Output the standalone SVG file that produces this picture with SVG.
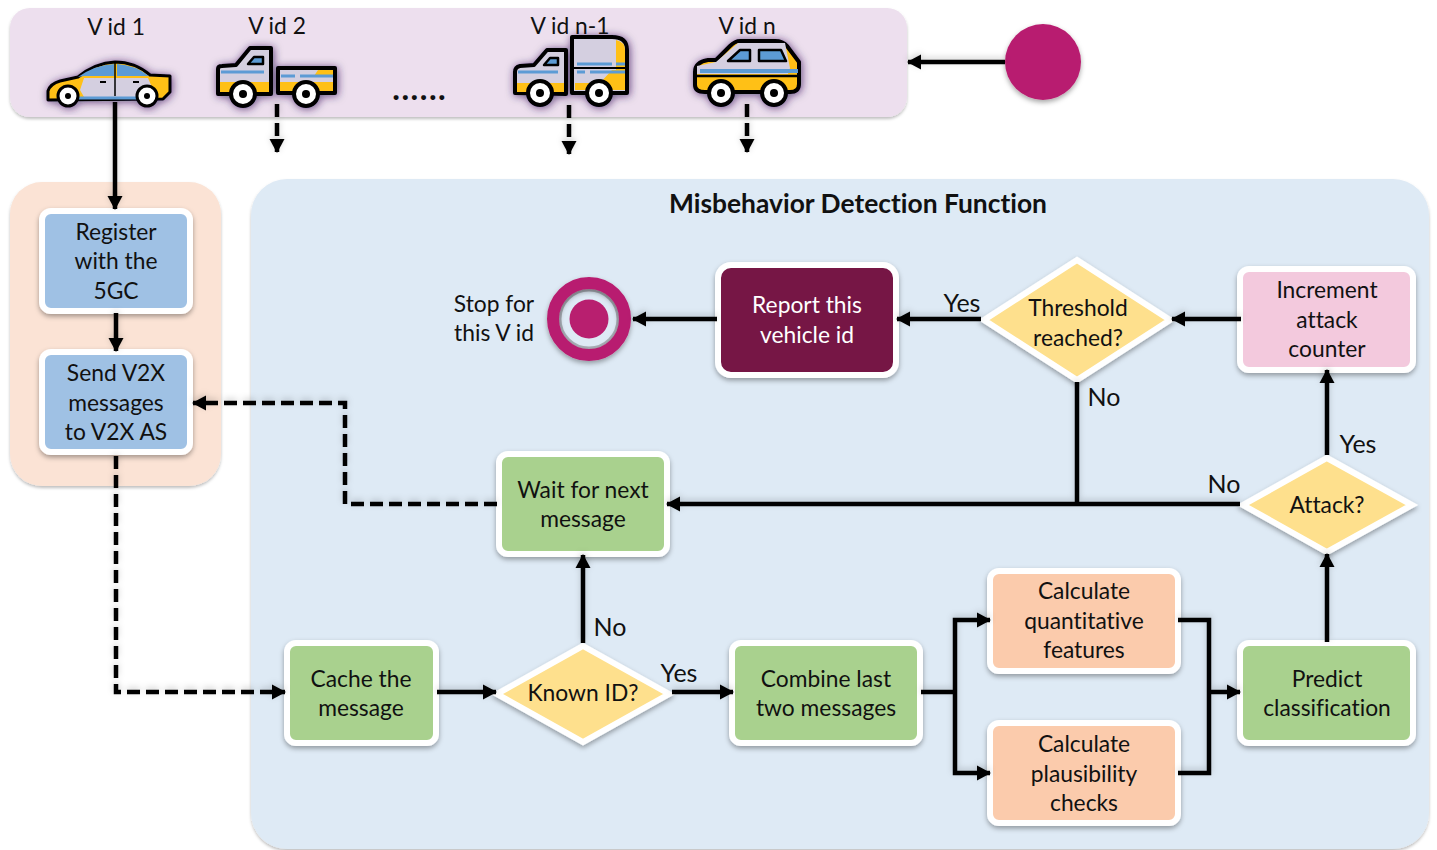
<svg xmlns="http://www.w3.org/2000/svg" width="1437" height="850" viewBox="0 0 1437 850">
<style>
text{font-family:"Lato","Open Sans","Liberation Sans",sans-serif;font-size:22.8px;fill:#111;text-anchor:middle;font-variant-ligatures:none}
.box{stroke:#fff;stroke-width:6;filter:url(#sh)}
.g{fill:#a9d18e}.o{fill:#fbcbac}.b{fill:#9fc1e4}.y{fill:#fee08d}
.c{fill:none;stroke:#000;stroke-width:4.5}
.a{marker-end:url(#ah)}
.d{stroke-dasharray:13 6}
.v{stroke:#000;stroke-width:4;stroke-linejoin:round}
.w{fill:#fff;stroke:#000;stroke-width:4}
.hub{fill:#000}
.bl{fill:#5b9bd5}.ye{fill:#ffc014}.gr{fill:#d4cfe0}
.lb{font-size:25px}
</style>
<defs>
<marker id="ah" markerUnits="userSpaceOnUse" markerWidth="15" markerHeight="16" refX="13" refY="8" orient="auto"><path d="M0 0.5L14 8L0 15.5Z" fill="#000"/></marker>
<filter id="sh" x="-20%" y="-20%" width="140%" height="140%"><feDropShadow dx="0" dy="2.5" stdDeviation="2.5" flood-color="#000" flood-opacity=".35"/></filter>
<filter id="pn" x="-5%" y="-5%" width="110%" height="110%"><feDropShadow dx="0" dy="2" stdDeviation="1.5" flood-color="#000" flood-opacity=".25"/></filter>
<filter id="vs" x="-20%" y="-20%" width="140%" height="140%"><feDropShadow dx="1" dy="1" stdDeviation="4" flood-color="#2a1650" flood-opacity=".7"/></filter>
<filter id="ls" x="-5%" y="-5%" width="110%" height="110%"><feDropShadow dx="0" dy="-2" stdDeviation="3" flood-color="#000" flood-opacity=".18"/></filter>
</defs>
<g id="vehicle-panel"><rect x="10" y="8" width="897" height="109" rx="20" fill="#eddfee" filter="url(#pn)"/></g>
<g id="ue-panel"><rect x="10" y="182" width="211" height="304" rx="32" fill="#fbe3d5" filter="url(#pn)"/></g>
<g id="mdf-panel"><rect x="251" y="179" width="1178" height="670" rx="36" fill="#deeaf5" filter="url(#pn)"/><text x="858" y="213" style="font-weight:700;font-size:26.4px">Misbehavior Detection Function</text></g>
<g id="source"><circle cx="1043" cy="62" r="38" fill="#b81f6f" filter="url(#sh)"/></g>
<g id="car1"><g filter="url(#vs)">
<path class="v ye" style="stroke-width:3" d="M48 100L48 91Q50 84 60 81L78 77Q95 63 115 62Q135 62 150 75L170 76L170 92L163 99Z"/>
<path class="gr" d="M84 78H148L154 92L150 97H84L80 90Z"/>
<path class="bl" d="M78 77Q95 65 114 64V76H84ZM117 64Q135 65 149 76H117Z"/>
<path d="M115 62V96" stroke="#000" stroke-width="1.5"/><path d="M100 82h6M133 82h6" stroke="#000" stroke-width="2"/>
<path d="M70 98H140" stroke="#5b9bd5" stroke-width="3"/>
<circle class="w" style="stroke-width:3" cx="68" cy="96" r="10"/><circle class="hub" cx="68" cy="96" r="3"/><circle class="w" style="stroke-width:3" cx="147" cy="96" r="10"/><circle class="hub" cx="147" cy="96" r="3"/>
</g><text x="116" y="35">V id 1</text></g>
<g id="truck2"><g filter="url(#vs)">
<path class="v gr" d="M218 92V69Q218 66 222 66L236 65L250 48H271V94H218Z"/>
<path class="ye" d="M220 82H269V92H220Z"/>
<path class="bl v" d="M248 64L254 57H263V64Z" style="stroke-width:2.5"/>
<path d="M221 72H264" stroke="#5b9bd5" stroke-width="3"/>
<path class="v gr" d="M278 68H335V93H278Z"/>
<path class="ye" d="M280 82H333V91H280ZM318 70H333V76H314Z"/>
<path d="M281 76H295M300 76H333" stroke="#5b9bd5" stroke-width="3"/>
<circle class="w" cx="243" cy="94" r="12"/><circle class="hub" cx="243" cy="94" r="4"/><circle class="w" cx="306" cy="94" r="12"/><circle class="hub" cx="306" cy="94" r="4"/>
</g><text x="277" y="34">V id 2</text></g>
<g id="truckn1"><g filter="url(#vs)">
<path class="v gr" d="M515 93V72Q515 67 520 66L534 65L547 50H566V94Z"/>
<path class="ye" d="M517 83H564V92H517Z"/>
<path class="bl v" d="M544 65L550 58H558V65Z" style="stroke-width:2.5"/>
<path d="M518 72H558" stroke="#5b9bd5" stroke-width="3"/>
<path class="v gr" d="M572 37H612Q627 37 627 50V93H572Z"/>
<path class="ye" d="M616 40Q625 42 625 50V90H575V83H600L612 70H616Z"/>
<path d="M572 68H627" stroke="#000" stroke-width="2"/>
<path d="M577 64H612M616 64H625M577 72H585M590 72H625" stroke="#5b9bd5" stroke-width="3"/>
<circle class="w" cx="540" cy="93" r="12"/><circle class="hub" cx="540" cy="93" r="4"/><circle class="w" cx="599" cy="93" r="12"/><circle class="hub" cx="599" cy="93" r="4"/>
</g><text x="570" y="34">V id n-1</text></g>
<g id="vann"><g filter="url(#vs)">
<path class="v ye" d="M695 80V85Q695 92 705 92H790Q799 92 799 84V62L787 46Q783 41 775 41H740Q735 41 730 46L716 60H708Q695 62 695 72Z"/>
<path class="gr" d="M697 66L716 62L738 43H785L790 68L788 74H697Z"/>
<path d="M700 71H798" stroke="#5b9bd5" stroke-width="4"/>
<path d="M696 76H798" stroke="#000" stroke-width="2.5"/>
<path class="bl v" d="M728 61L740 50H750V61ZM759 50H781L786 61H759Z" style="stroke-width:2.5"/>
<circle class="w" cx="721" cy="93" r="12"/><circle class="hub" cx="721" cy="93" r="4"/><circle class="w" cx="774" cy="93" r="12"/><circle class="hub" cx="774" cy="93" r="4"/>
</g><text x="747" y="34">V id n</text></g>
<g id="dots"><text x="420" y="100" style="font-weight:900;font-size:30px;letter-spacing:2px">......</text></g>
<g id="register"><rect class="box b" x="42" y="211" width="148" height="100" rx="9"/><text x="116" y="240">Register</text><text x="116" y="269">with the</text><text x="116" y="299">5GC</text></g>
<g id="send"><rect class="box b" x="42" y="352" width="148" height="100" rx="9"/><text x="116" y="381">Send V2X</text><text x="116" y="411">messages</text><text x="116" y="440">to V2X AS</text></g>
<g id="stop"><text x="494" y="312">Stop for</text><text x="494" y="341">this V id</text><circle cx="589" cy="319" r="29" fill="none" stroke="#a9aeb6" stroke-width="3"/><circle cx="589" cy="319" r="36" fill="none" stroke="#b81f6f" stroke-width="12" filter="url(#sh)"/><circle cx="589" cy="319" r="19.5" fill="#b81f6f"/></g>
<g id="report"><rect class="box" fill="#761345" x="718" y="265" width="178" height="110" rx="13"/><text x="807" y="313" style="fill:#fff">Report this</text><text x="807" y="343" style="fill:#fff">vehicle id</text></g>
<g id="threshold"><path class="box y" d="M1077 260L1170 320L1077 380L984 320Z"/><text x="1078" y="316">Threshold</text><text x="1078" y="346">reached?</text></g>
<g id="increment"><rect class="box" fill="#f3c9dd" x="1240" y="269" width="173" height="101" rx="9"/><text x="1327" y="298">Increment</text><text x="1327" y="328">attack</text><text x="1327" y="357">counter</text></g>
<g id="wait"><rect class="box g" x="499" y="454" width="168" height="100" rx="9"/><text x="583" y="498">Wait for next</text><text x="583" y="527">message</text></g>
<g id="attack"><path class="box y" d="M1327 458L1412 505L1327 552L1243 505Z"/><text x="1327" y="513">Attack?</text></g>
<g id="cache"><rect class="box g" x="287" y="643" width="149" height="100" rx="9"/><text x="361" y="687">Cache the</text><text x="361" y="716">message</text></g>
<g id="known"><path class="box y" d="M583 646L669 694L583 742L497 694Z"/><text x="583" y="701">Known ID?</text></g>
<g id="combine"><rect class="box g" x="732" y="643" width="188" height="100" rx="9"/><text x="826" y="687">Combine last</text><text x="826" y="716">two messages</text></g>
<g id="quant"><rect class="box o" x="990" y="571" width="188" height="100" rx="9"/><text x="1084" y="599">Calculate</text><text x="1084" y="629">quantitative</text><text x="1084" y="658">features</text></g>
<g id="plaus"><rect class="box o" x="990" y="723" width="188" height="100" rx="9"/><text x="1084" y="752">Calculate</text><text x="1084" y="782">plausibility</text><text x="1084" y="811">checks</text></g>
<g id="predict"><rect class="box g" x="1240" y="643" width="173" height="100" rx="9"/><text x="1327" y="687">Predict</text><text x="1327" y="716">classification</text></g>
<g id="connectors" filter="url(#ls)">
<path class="c a" d="M1005 62H908"/>
<path class="c a" d="M115 102V209"/>
<path class="c a d" d="M277 104V152"/>
<path class="c a d" d="M569 105V154"/>
<path class="c a d" d="M747 104V152"/>
<path class="c a" d="M116 313V351"/>
<path class="c a d" d="M116 456V692H285"/>
<path class="c a d" d="M497 504H345V403H193"/>
<path class="c a" d="M437 692H496"/>
<path class="c a" d="M672 692H733"/>
<path class="c a" d="M583 643V555"/>
<path class="c" d="M921 692H955"/>
<path class="c a" d="M955 692V620H990"/>
<path class="c a" d="M955 692V773H990"/>
<path class="c" d="M1178 620H1209V773H1178"/>
<path class="c a" d="M1209 692H1240"/>
<path class="c a" d="M1327 642V554"/>
<path class="c a" d="M1327 455V370"/>
<path class="c a" d="M1240 504H667"/>
<path class="c" d="M1077 382V504"/>
<path class="c a" d="M1241 319H1172"/>
<path class="c a" d="M981 319H897"/>
<path class="c a" d="M717 319H633"/>
</g>
<g id="labels"><text class="lb" x="962" y="312">Yes</text><text class="lb" x="1104" y="406">No</text><text class="lb" x="1358" y="453">Yes</text><text class="lb" x="1224" y="493">No</text><text class="lb" x="610" y="636">No</text><text class="lb" x="679" y="682">Yes</text></g>
</svg>
